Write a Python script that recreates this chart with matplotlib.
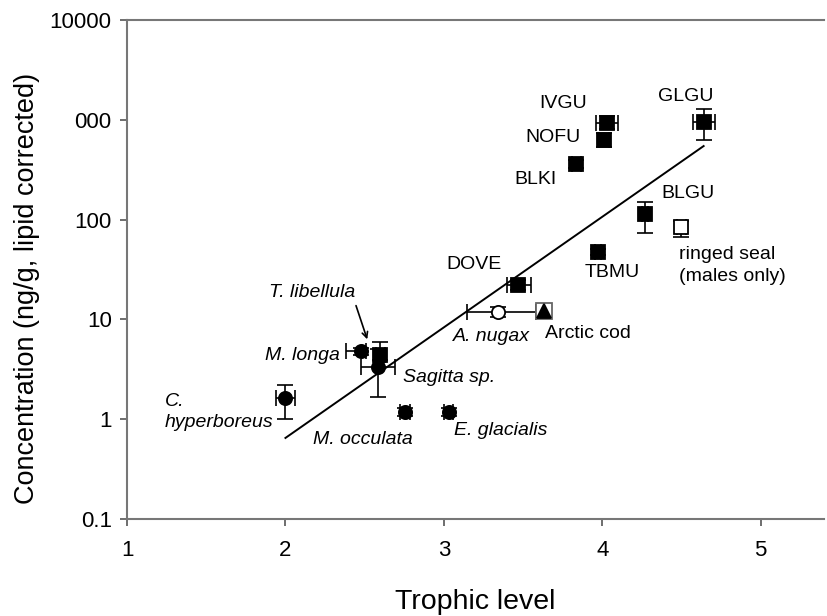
import numpy as np
import matplotlib
matplotlib.use("Agg")
import matplotlib.pyplot as plt
from matplotlib.ticker import FixedLocator, FixedFormatter, NullLocator

plt.rcParams['font.family'] = ['Liberation Sans', 'DejaVu Sans']

# ---- data: trophic level (x) and lipid-corrected concentration (y, ng/g) ----
species = ["C. hyperboreus", "M. longa", "T. libellula", "Sagitta sp.",
           "M. occulata", "E. glacialis", "A. nugax", "Arctic cod",
           "DOVE", "TBMU", "BLGU", "ringed seal", "BLKI", "NOFU", "IVGU", "GLGU"]
trophic = [2.00, 2.48, 2.60, 2.585, 2.756, 3.03, 3.344, 3.63,
           3.47, 3.975, 4.27, 4.50, 3.836, 4.01, 4.03, 4.64]
conc = [1.63, 4.8, 4.4, 3.3, 1.18, 1.18, 11.9, 12.0,
        22.1, 47.3, 114, 84, 361, 628, 929, 951]
tl_err_lo = [0.06, 0.10, 0.03, 0.107, 0.03, 0.03, 0.20, 0.04,
             0.07, 0.02, 0.02, 0.03, 0.03, 0.03, 0.07, 0.07]
tl_err_hi = [0.06, 0.03, 0.03, 0.107, 0.03, 0.03, 0.24, 0.04,
             0.08, 0.02, 0.02, 0.03, 0.03, 0.03, 0.07, 0.07]
conc_lo = [1.0, 4.4, 3.9, 1.67, 1.08, 1.08, 10.6, 10.9,
           19.8, 44.0, 73, 67, 330, 540, 800, 628]
conc_hi = [2.2, 5.2, 5.9, 5.0, 1.30, 1.30, 13.3, 13.2,
           24.6, 51.0, 150, 97, 395, 730, 1080, 1283]
group = ["invert", "invert", "amphipod", "invert", "invert", "invert",
         "fish_open", "cod", "bird", "bird", "bird", "seal", "bird", "bird", "bird", "bird"]

# regression of log10(concentration) on trophic level
reg_slope = 1.108
reg_intercept = -2.404
reg_tl_range = [2.0, 4.64]

y_ticks = [0.1, 1, 10, 100, 1000, 10000]
y_tick_labels = ["0.1", "1", "10", "100", "000", "10000"]
x_ticks = [1, 2, 3, 4, 5]

# marker style per group
style = {
    "invert":    dict(marker="o", mfc="black", mec="black", ms=9.5),
    "amphipod":  dict(marker="s", mfc="black", mec="black", ms=9.5),
    "fish_open": dict(marker="o", mfc="white", mec="black", ms=9.5),
    "cod":       dict(marker="^", mfc="black", mec="black", ms=9.5),
    "bird":      dict(marker="s", mfc="black", mec="black", ms=9.5),
    "seal":      dict(marker="s", mfc="white", mec="black", ms=9.5),
}

fig = plt.figure(figsize=(8.27, 6.16), dpi=100)
ax = fig.add_axes([0.1536, 0.1575, 0.8428, 0.8100])

# regression line
xl = np.array(reg_tl_range)
ax.plot(xl, 10 ** (reg_intercept + reg_slope * xl), color="black", lw=1.4, zorder=2)

for i in range(len(species)):
    st = style[group[i]]
    ax.errorbar(trophic[i], conc[i],
                xerr=[[tl_err_lo[i]], [tl_err_hi[i]]],
                yerr=[[conc[i] - conc_lo[i]], [conc_hi[i] - conc[i]]],
                fmt="none", ecolor="black", elinewidth=1.2, capsize=6,
                capthick=1.2, zorder=3)
    if group[i] == "cod":
        # open box behind the cod triangle
        ax.plot(trophic[i], conc[i], linestyle="none", marker="s", ms=11,
                mfc="white", mec="#666666", mew=1.3, zorder=3.5)
    ax.plot(trophic[i], conc[i], linestyle="none", zorder=4, mew=1.3, **st)

# species labels
lab_kw = dict(fontsize=14, color="black", va="center")
it_kw = dict(fontsize=14, color="black", va="center", style="italic")
ax.text(3.754, 1472, "IVGU", ha="center", **lab_kw)
ax.text(3.691, 658, "NOFU", ha="center", **lab_kw)
ax.text(3.577, 255, "BLKI", ha="center", **lab_kw)
ax.text(4.525, 1730, "GLGU", ha="center", **lab_kw)
ax.text(4.538, 181, "BLGU", ha="center", **lab_kw)
ax.text(4.487, 44.2, "ringed seal", ha="left", **lab_kw)
ax.text(4.487, 26.6, "(males only)", ha="left", **lab_kw)
ax.text(4.064, 29.2, "TBMU", ha="center", **lab_kw)
ax.text(3.192, 35.9, "DOVE", ha="center", **lab_kw)
ax.text(3.912, 7.14, "Arctic cod", ha="center", **lab_kw)
ax.text(3.299, 6.67, "A. nugax", ha="center", **it_kw)
ax.text(2.169, 18.4, "T. libellula", ha="center", **it_kw)
ax.text(2.346, 4.30, "M. longa", ha="right", **it_kw)
ax.text(2.744, 2.59, "Sagitta sp.", ha="left", **it_kw)
ax.text(1.240, 1.49, "C.", ha="left", **it_kw)
ax.text(1.240, 0.916, "hyperboreus", ha="left", **it_kw)
ax.text(2.491, 0.633, "M. occulata", ha="center", **it_kw)
ax.text(3.356, 0.762, "E. glacialis", ha="center", **it_kw)
ax.annotate("", xy=(2.522, 5.94), xytext=(2.440, 14.6),
            arrowprops=dict(arrowstyle="->", color="black", lw=1.2))

# axes
ax.set_yscale("log")
ax.set_xlim(1, 5.40)
ax.set_ylim(0.1, 10000)
ax.yaxis.set_major_locator(FixedLocator(y_ticks))
ax.yaxis.set_major_formatter(FixedFormatter(y_tick_labels))
ax.yaxis.set_minor_locator(NullLocator())
ax.set_xticks(x_ticks)
ax.tick_params(axis="both", direction="out", length=5, width=1.2,
               color="#555555", labelsize=16, pad=6)
ax.tick_params(axis="x", pad=10)

for side in ["left", "bottom", "top"]:
    ax.spines[side].set_color("#777777")
    ax.spines[side].set_linewidth(1.5)
ax.spines["right"].set_visible(False)

ax.set_xlabel("Trophic level", fontsize=20.5, labelpad=20)
ax.set_ylabel("Concentration (ng/g, lipid corrected)", fontsize=19.5)
ax.yaxis.set_label_coords(-0.125, 0.463)

fig.savefig("out.png", dpi=100)
